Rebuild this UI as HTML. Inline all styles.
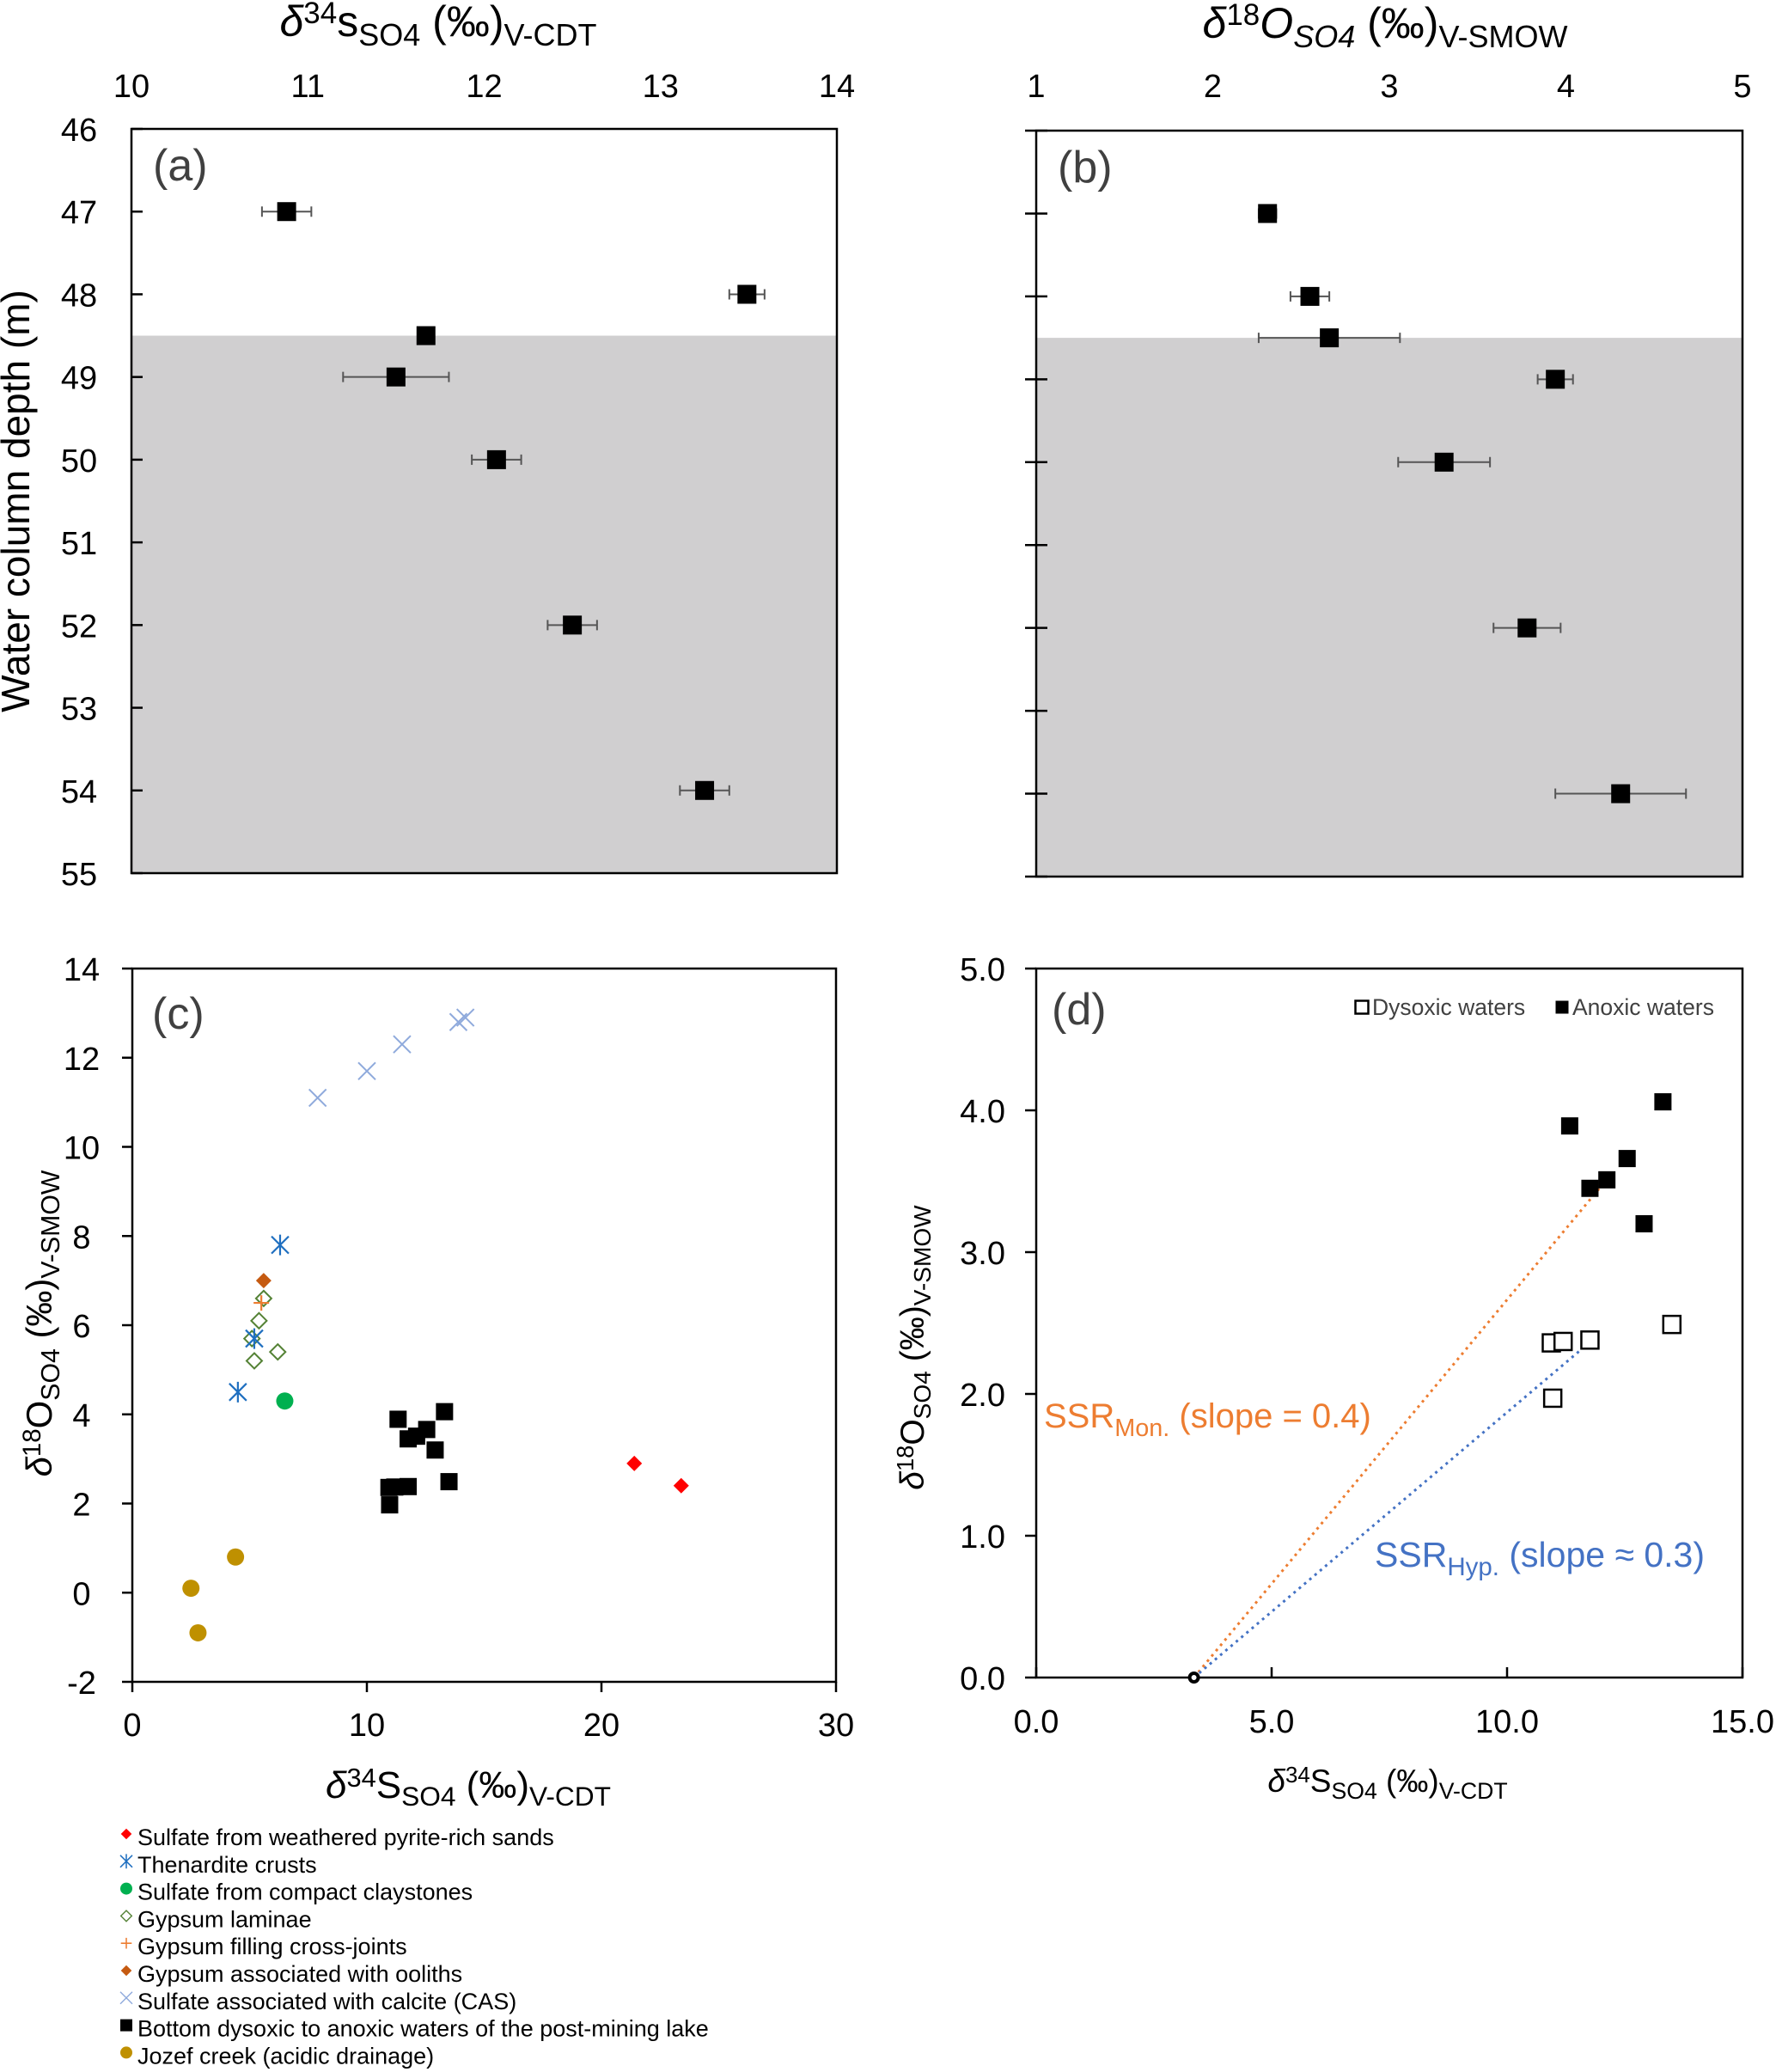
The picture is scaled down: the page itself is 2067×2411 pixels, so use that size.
<!DOCTYPE html>
<html><head><meta charset="utf-8"><style>
body{margin:0;background:#fff}
svg{display:block;font-family:"Liberation Sans",Arial,sans-serif}
</style></head><body>
<svg id="fig" width="2067" height="2411" viewBox="0 0 2067 2411" xmlns="http://www.w3.org/2000/svg">
<g id="ga"></g>
<g id="gb"></g>
<g id="gc"></g>
<g id="gd"></g>
<g id="gl"></g>
</svg>
<script>
// Panel a: d34S profile
const aDepth = [47, 48, 48.5, 49, 50, 52, 54];
const aS34 = [10.88, 13.49, 11.67, 11.5, 12.07, 12.5, 13.25];
const aErr = [0.14, 0.1, 0, 0.3, 0.14, 0.14, 0.14];
// Panel b: d18O profile
const bDepth = [47, 48, 48.5, 49, 50, 52, 54];
const bO18 = [2.31, 2.55, 2.66, 3.94, 3.31, 3.78, 4.31];
const bErr = [0.05, 0.11, 0.4, 0.1, 0.26, 0.19, 0.37];
const depthTicks = [46, 47, 48, 49, 50, 51, 52, 53, 54, 55];
const aXTicks = [10, 11, 12, 13, 14];
const bXTicks = [1, 2, 3, 4, 5];
const redoxDepth = 48.5;
// Panel d / lake waters
const anoxS = [11.33, 13.31, 12.55, 11.76, 12.12, 12.91];
const anoxO = [3.89, 4.06, 3.66, 3.45, 3.51, 3.20];
const dysS = [10.94, 11.19, 11.76, 13.5, 10.97];
const dysO = [2.36, 2.37, 2.38, 2.49, 1.97];
const ssrStart = [3.35, 0];
const ssrMonEnd = [12.26, 3.57];
const ssrHypEnd = [11.67, 2.34];
// Panel c sources
const pyrS = [21.4, 23.4], pyrO = [2.9, 2.4];
const thenS = [6.3, 4.5, 5.2], thenO = [7.8, 4.5, 5.7];
const clayS = [6.5], clayO = [4.3];
const lamS = [5.6, 5.4, 5.1, 5.2, 6.2], lamO = [6.6, 6.1, 5.7, 5.2, 5.4];
const jointS = [5.5], jointO = [6.5];
const oolS = [5.6], oolO = [7.0];
const casS = [7.9, 10.0, 11.5, 13.9, 14.2], casO = [11.1, 11.7, 12.3, 12.8, 12.9];
const jozS = [2.5, 2.8, 4.4], jozO = [0.1, -0.9, 0.8];
const cXTicks = [0, 10, 20, 30];
const cYTicks = [-2, 0, 2, 4, 6, 8, 10, 12, 14];
const dXTicks = [0, 5, 10, 15];
const dYTicks = [0, 1, 2, 3, 4, 5];
const legendLabels = ["Sulfate from weathered pyrite-rich sands","Thenardite crusts"," Sulfate from compact claystones","Gypsum laminae","Gypsum filling cross-joints","Gypsum associated with ooliths","Sulfate associated with calcite (CAS)","Bottom dysoxic to anoxic waters of the post-mining lake","Jozef creek (acidic drainage)"];

const NS = "http://www.w3.org/2000/svg";
function mk(parent, tag, attrs, text) {
  const e = document.createElementNS(NS, tag);
  for (const k in attrs) e.setAttribute(k, attrs[k]);
  if (text !== undefined) e.textContent = text;
  parent.appendChild(e);
  return e;
}
function lin(d0, d1, r0, r1) { return v => r0 + (v - d0) * (r1 - r0) / (d1 - d0); }

function sq(g, x, y, s, fill, name) {
  const e = mk(g, "rect", {x: x - s/2, y: y - s/2, width: s, height: s, fill: fill, stroke: "#000", "stroke-width": fill === "none" || fill === "#fff" ? 2.5 : 0});
  
  
  return e;
}
function marker(g, type, x, y, color, name) {
  let e;
  if (type === "diamond") e = mk(g, "path", {d: `M${x} ${y-9}L${x+9} ${y}L${x} ${y+9}L${x-9} ${y}Z`, fill: color});
  else if (type === "odiamond") e = mk(g, "path", {d: `M${x} ${y-9}L${x+9} ${y}L${x} ${y+9}L${x-9} ${y}Z`, fill: "none", stroke: color, "stroke-width": 2});
  else if (type === "circle") e = mk(g, "circle", {cx: x, cy: y, r: 10, fill: color});
  else if (type === "plus") e = mk(g, "path", {d: `M${x-9} ${y}H${x+9}M${x} ${y-9}V${y+9}`, stroke: color, "stroke-width": 2.2});
  else if (type === "x") e = mk(g, "path", {d: `M${x-10} ${y-10}L${x+10} ${y+10}M${x-10} ${y+10}L${x+10} ${y-10}`, stroke: color, "stroke-width": 2});
  else if (type === "star") e = mk(g, "path", {d: `M${x-10} ${y-10}L${x+10} ${y+10}M${x-10} ${y+10}L${x+10} ${y-10}M${x} ${y-12}V${y+12}`, stroke: color, "stroke-width": 2.2});
  else if (type === "square") e = mk(g, "rect", {x: x - 10, y: y - 10, width: 20, height: 20, fill: color});
  
  
  return e;
}

// ---------- Panel a & b ----------
function profile(g, L, R, T, B, xt, depths, vals, errs, label, tickOutside, showYLabels) {
  const X = lin(xt[0], xt[xt.length-1], L, R), Y = lin(46, 55, T, B);
  const shade = mk(g, "rect", {x: L, y: Y(redoxDepth), width: R - L, height: B - Y(redoxDepth), fill: "#d0cfd0"});
  
  
  const fr = mk(g, "rect", {x: L, y: T, width: R - L, height: B - T, fill: "none", stroke: "#000", "stroke-width": 2.5});
  
  
  depthTicks.forEach(d => {
    const y = Y(d);
    const t = mk(g, "line", {x1: tickOutside ? L - 13 : L, x2: L + 13, y1: y, y2: y, stroke: "#000", "stroke-width": 2.5});
    
    
    if (showYLabels) {
      const tx = mk(g, "text", {x: 92, y: y + 14, "text-anchor": "middle", "font-size": 38}, String(d));
      
      
    }
  });
  xt.forEach(v => {
    const tx = mk(g, "text", {x: X(v), y: 113, "text-anchor": "middle", "font-size": 38}, String(v));
    
    
  });
  depths.forEach((d, i) => {
    const y = Y(d), x = X(vals[i]);
    if (errs[i] > 0) {
      const e = mk(g, "path", {d: `M${X(vals[i]-errs[i])} ${y}H${X(vals[i]+errs[i])}M${X(vals[i]-errs[i])} ${y-6}V${y+6}M${X(vals[i]+errs[i])} ${y-6}V${y+6}`, stroke: "#555", "stroke-width": 2, fill: "none"});
      
      
    }
    sq(g, x, y, 22, "#000", "data-point");
  });
  const lb = mk(g, "text", {x: L + 25, y: T + 60, "font-size": 52, fill: "#404040"}, label);
  
  
}
const ga = document.getElementById("ga"), gb = document.getElementById("gb");
profile(ga, 153, 974, 150, 1016, aXTicks, aDepth, aS34, aErr, "(a)", false, true);
profile(gb, 1206, 2028, 152, 1020, bXTicks, bDepth, bO18, bErr, "(b)", true, false);

function richTitle(g, x, y, parts, anchor, size, name, rot) {
  const t = mk(g, "text", {x: x, y: y, "text-anchor": anchor, "font-size": size});
  if (rot) t.setAttribute("transform", `rotate(-90 ${x} ${y})`);
  
  
  parts.forEach(p => { mk(t, "tspan", p.a || {}, p.t); });
  return t;
}
function isoParts(sym, mass, el, ref, s) {
  const u = Math.round(s * 0.3);
  return [
    {t: sym, a: {"font-style": "italic"}},
    {t: mass, a: {"font-size": "0.7em", dy: String(-u)}},
    {t: el, a: {dy: String(u), "font-style": ref === "V-SMOW-top" ? "italic" : "normal"}},
    {t: "SO4", a: {"font-size": "0.72em", dy: String(Math.round(u*0.7)), "font-style": ref === "V-SMOW-top" ? "italic" : "normal"}},
    {t: " (‰)", a: {dy: String(-Math.round(u*0.7))}},
    {t: ref === "V-SMOW-top" ? "V-SMOW" : ref, a: {"font-size": "0.72em", dy: String(Math.round(u*0.7))}}
  ];
}
richTitle(ga, 510, 42, isoParts("δ", "34", "s", "V-CDT", 50), "middle", 50, "x-axis-title-a");
richTitle(gb, 1612, 44, isoParts("δ", "18", "O", "V-SMOW-top", 50), "middle", 50, "x-axis-title-b");
const wt = mk(ga, "text", {x: 34, y: 583, "text-anchor": "middle", "font-size": 46, transform: "rotate(-90 34 583)"}, "Water column depth (m)");



// ---------- Panel c ----------
const gc = document.getElementById("gc");
{
  const L = 154, R = 973, T = 1127, B = 1957;
  const X = lin(0, 30, L, R), Y = lin(-2, 14, B, T);
  const fr = mk(gc, "rect", {x: L, y: T, width: R - L, height: B - T, fill: "none", stroke: "#000", "stroke-width": 2.5});
  
  
  cYTicks.forEach(v => {
    const t = mk(gc, "line", {x1: L - 12, x2: L, y1: Y(v), y2: Y(v), stroke: "#000", "stroke-width": 2.5});
    
    
    const tx = mk(gc, "text", {x: 95, y: Y(v) + 14, "text-anchor": "middle", "font-size": 38}, String(v));
    
    
  });
  cXTicks.forEach(v => {
    const t = mk(gc, "line", {x1: X(v), x2: X(v), y1: B, y2: B + 12, stroke: "#000", "stroke-width": 2.5});
    
    
    const tx = mk(gc, "text", {x: X(v), y: 2020, "text-anchor": "middle", "font-size": 38}, String(v));
    
    
  });
  casS.forEach((s, i) => marker(gc, "x", X(s), Y(casO[i]), "#8faadc", "cas-point"));
  lamS.forEach((s, i) => marker(gc, "odiamond", X(s), Y(lamO[i]), "#548235", "gypsum-laminae-point"));
  thenS.forEach((s, i) => marker(gc, "star", X(s), Y(thenO[i]), "#1f6fc0", "thenardite-point"));
  jointS.forEach((s, i) => marker(gc, "plus", X(s), Y(jointO[i]), "#ed7d31", "gypsum-cross-joint-point"));
  oolS.forEach((s, i) => marker(gc, "diamond", X(s), Y(oolO[i]), "#c55a11", "gypsum-oolith-point"));
  clayS.forEach((s, i) => marker(gc, "circle", X(s), Y(clayO[i]), "#00b050", "claystone-point"));
  pyrS.forEach((s, i) => marker(gc, "diamond", X(s), Y(pyrO[i]), "#ff0000", "pyrite-sand-point"));
  jozS.forEach((s, i) => marker(gc, "circle", X(s), Y(jozO[i]), "#bf9000", "jozef-creek-point"));
  anoxS.forEach((s, i) => sq(gc, X(s), Y(anoxO[i]), 20, "#000", "lake-water-point"));
  dysS.forEach((s, i) => sq(gc, X(s), Y(dysO[i]), 20, "#000", "lake-water-point"));
  const lb = mk(gc, "text", {x: 177, y: 1197, "font-size": 52, fill: "#404040"}, "(c)");
  
  
  richTitle(gc, 545, 2092, isoParts("δ", "34", "S", "V-CDT", 44), "middle", 44, "x-axis-title-c");
  richTitle(gc, 60, 1540, isoParts("δ", "18", "O", "V-SMOW", 42), "middle", 42, "y-axis-title-c", true);
}

// ---------- Panel d ----------
const gd = document.getElementById("gd");
{
  const L = 1206, R = 2028, T = 1127, B = 1952;
  const X = lin(0, 15, L, R), Y = lin(0, 5, B, T);
  const fr = mk(gd, "rect", {x: L, y: T, width: R - L, height: B - T, fill: "none", stroke: "#000", "stroke-width": 2.5});
  
  
  dYTicks.forEach(v => {
    const t = mk(gd, "line", {x1: L - 13, x2: L, y1: Y(v), y2: Y(v), stroke: "#000", "stroke-width": 2.5});
    
    
    const tx = mk(gd, "text", {x: 1170, y: Y(v) + 14, "text-anchor": "end", "font-size": 38}, v.toFixed(1));
    
    
  });
  dXTicks.forEach(v => {
    const t = mk(gd, "line", {x1: X(v), x2: X(v), y1: B - 12, y2: B, stroke: "#000", "stroke-width": 2.5});
    
    
    const tx = mk(gd, "text", {x: X(v), y: 2016, "text-anchor": "middle", "font-size": 38}, v.toFixed(1));
    
    
  });
  const l1 = mk(gd, "line", {x1: X(ssrStart[0]), y1: Y(ssrStart[1]), x2: X(ssrMonEnd[0]), y2: Y(ssrMonEnd[1]), stroke: "#ed7d31", "stroke-width": 3, "stroke-dasharray": "3 5"});
  
  
  const l2 = mk(gd, "line", {x1: X(ssrStart[0]), y1: Y(ssrStart[1]), x2: X(ssrHypEnd[0]), y2: Y(ssrHypEnd[1]), stroke: "#4472c4", "stroke-width": 3, "stroke-dasharray": "3 5"});
  
  
  const c0 = mk(gd, "circle", {cx: X(ssrStart[0]), cy: Y(ssrStart[1]), r: 5, fill: "#fff", stroke: "#000", "stroke-width": 4});
  
  
  anoxS.forEach((s, i) => sq(gd, X(s), Y(anoxO[i]), 20, "#000", "anoxic-point"));
  dysS.forEach((s, i) => sq(gd, X(s), Y(dysO[i]), 20, "#fff", "dysoxic-point"));
  const lb = mk(gd, "text", {x: 1224, y: 1192, "font-size": 52, fill: "#404040"}, "(d)");
  
  
  sq(gd, 1585, 1172, 15, "#fff", "legend-dysoxic-marker");
  const t1 = mk(gd, "text", {x: 1597, y: 1181, "font-size": 26.5, fill: "#404040"}, "Dysoxic waters");
  
  
  sq(gd, 1818, 1172, 15, "#000", "legend-anoxic-marker");
  const t2 = mk(gd, "text", {x: 1830, y: 1181, "font-size": 26.5, fill: "#404040"}, "Anoxic waters");
  
  
  richTitle(gd, 1215, 1661, [{t: "SSR"}, {t: "Mon.", a: {"font-size": "0.72em", dy: "10"}}, {t: " (slope = 0.4)", a: {dy: "-10"}}], "start", 40, "ssr-mon-label").setAttribute("fill", "#ed7d31");
  richTitle(gd, 1600, 1823, [{t: "SSR"}, {t: "Hyp.", a: {"font-size": "0.72em", dy: "10"}}, {t: " (slope ≈ 0.3)", a: {dy: "-10"}}], "start", 41, "ssr-hyp-label").setAttribute("fill", "#4472c4");
  richTitle(gd, 1615, 2085, isoParts("δ", "34", "S", "V-CDT", 37), "middle", 37, "x-axis-title-d");
  richTitle(gd, 1075, 1568, isoParts("δ", "18", "O", "V-SMOW", 39), "middle", 39, "y-axis-title-d", true);
}

// ---------- Legend for c ----------
const gl = document.getElementById("gl");
const legTypes = ["diamond", "star", "circle", "odiamond", "plus", "diamond", "x", "square", "circle"];
const legColors = ["#ff0000", "#1f6fc0", "#00b050", "#548235", "#ed7d31", "#c55a11", "#8faadc", "#000", "#bf9000"];
legendLabels.forEach((lab, i) => {
  const y = 2142 + i * 31.8;
  const m = marker(gl, legTypes[i], 147, y - 8, legColors[i], "legend-marker");
  m.setAttribute("transform", `translate(147 ${y-8}) scale(0.7) translate(-147 ${-(y-8)})`);
  const t = mk(gl, "text", {x: 160, y: y + 5, "font-size": 27}, lab);
  
  
});
</script>
</body></html>
